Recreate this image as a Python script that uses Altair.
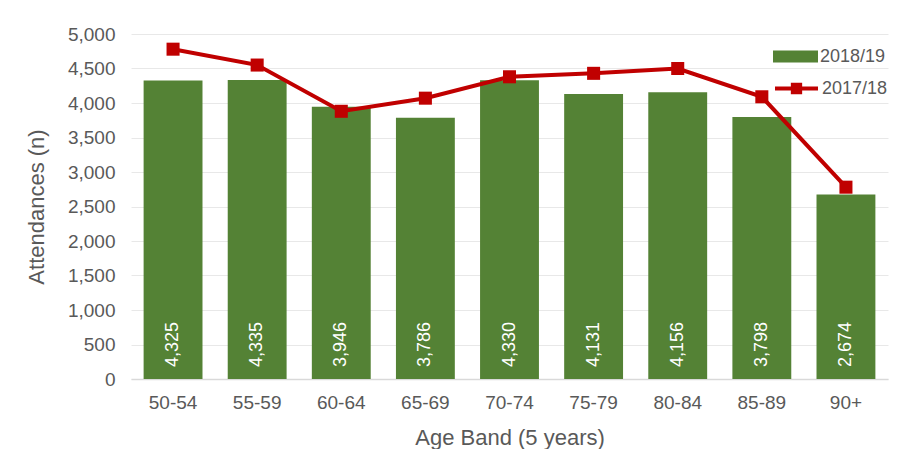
import altair as alt
import pandas as pd

age_bands = ["50-54", "55-59", "60-64", "65-69", "70-74", "75-79", "80-84", "85-89", "90+"]
att_2018_19 = [4325, 4335, 3946, 3786, 4330, 4131, 4156, 3798, 2674]
att_2017_18 = [4780, 4550, 3880, 4070, 4380, 4430, 4500, 4090, 2780]
y_ticks = [0, 500, 1000, 1500, 2000, 2500, 3000, 3500, 4000, 4500, 5000]

GREEN = "#548235"
RED = "#C00000"
TEXT = "#595959"
FONT = "Liberation Sans"

bars_df = pd.DataFrame({"band": age_bands, "value": att_2018_19, "series": "2018/19"})
line_df = pd.DataFrame({"band": age_bands, "value": att_2017_18, "series": "2017/18"})

x_enc = alt.X("band:N", sort=age_bands,
              scale=alt.Scale(paddingInner=0.3, paddingOuter=0.15),
              axis=alt.Axis(title="Age Band (5 years)", labelAngle=0, ticks=False,
                            labelPadding=14, titlePadding=15, domainColor="#D9D9D9",
                            domainWidth=1.5, grid=False))
y_scale = alt.Scale(domain=[0, 5000], nice=False)
y_axis = alt.Axis(title="Attendances (n)", values=y_ticks, format=",.0f", ticks=False,
                  domain=False, labelPadding=16, titlePadding=19, gridColor="#E8E8E8")

bars = alt.Chart(bars_df).mark_bar(color=GREEN).encode(
    x=x_enc,
    y=alt.Y("value:Q", scale=y_scale, axis=y_axis),
    fill=alt.Fill("series:N", scale=alt.Scale(domain=["2018/19"], range=[GREEN]),
                  legend=alt.Legend(title=None, orient="none", legendX=642, legendY=0,
                                    symbolType="M-1,-0.27H1V0.27H-1Z", symbolSize=2025,
                                    symbolStrokeWidth=0, labelFontSize=18, labelColor=TEXT,
                                    labelFont=FONT, padding=0, labelOffset=2)),
)

labels = alt.Chart(bars_df).mark_text(
    angle=270, align="left", baseline="middle", dx=12, color="white",
    fontSize=18, font=FONT
).encode(
    x=alt.X("band:N", sort=age_bands),
    y=alt.Y(datum=0, scale=y_scale, axis=y_axis),
    text=alt.Text("value:Q", format=","),
)

line = alt.Chart(line_df).mark_line(color=RED, strokeWidth=4).encode(
    x=alt.X("band:N", sort=age_bands),
    y=alt.Y("value:Q", scale=y_scale, axis=y_axis),
    stroke=alt.Stroke("series:N", scale=alt.Scale(domain=["2017/18"], range=[RED]),
                      legend=alt.Legend(title=None, orient="none", legendX=642, legendY=31,
                                        symbolType="M-1,0H1M-0.17,-0.17H0.17V0.17H-0.17Z",
                                        symbolSize=1849, symbolStrokeWidth=4,
                                        symbolFillColor=RED,
                                        labelFontSize=18, labelColor=TEXT, labelFont=FONT,
                                        padding=0, labelOffset=2)),
)

points = alt.Chart(line_df).mark_square(color=RED, size=170, opacity=1, filled=True).encode(
    x=alt.X("band:N", sort=age_bands),
    y=alt.Y("value:Q", scale=y_scale, axis=y_axis),
)

chart = alt.layer(bars, labels, line, points).properties(
    width=757, height=345,
    autosize=alt.AutoSizeParams(type="none"),
    padding={"left": 123, "top": 26, "right": 3, "bottom": 70},
).configure_axis(
    labelFont=FONT, titleFont=FONT, labelFontSize=19, titleFontSize=22,
    labelColor=TEXT, titleColor=TEXT, titleFontWeight="normal",
).configure_view(stroke=None)

chart.save("out.html", embed_options={"renderer": "svg", "actions": False})
